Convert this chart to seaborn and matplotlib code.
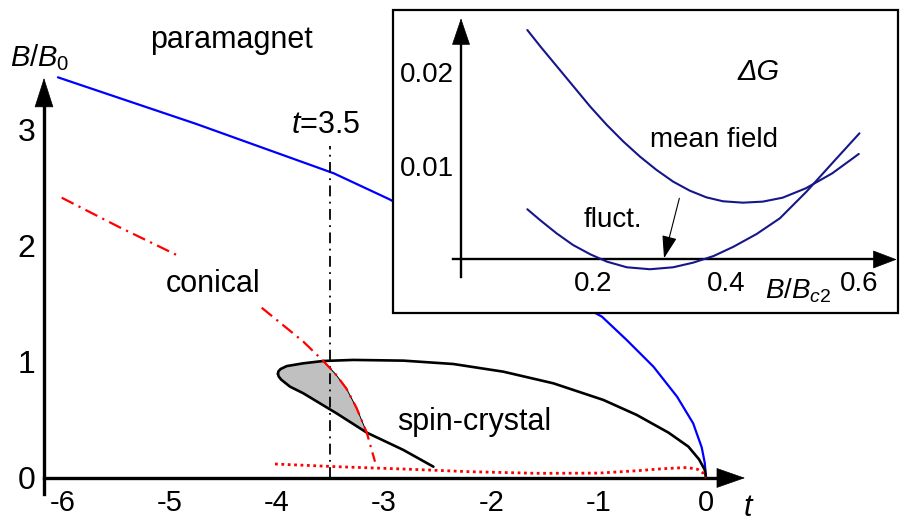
import matplotlib
matplotlib.use("Agg")
import matplotlib.pyplot as plt
from matplotlib.patches import Rectangle
import seaborn as sns

# ---------------- phase diagram data (t, B/B0) ----------------
# paramagnet boundary
para_t = [-6.04, -4.75, -3.47, -2.95, -0.97, -0.74, -0.49, -0.27, -0.12, -0.04, -0.012, 0.0]
para_B = [3.445, 3.044, 2.62, 2.396, 1.387, 1.187, 0.957, 0.699, 0.47, 0.262, 0.13, 0.0]

# conical boundary (two pieces, broken by the "conical" label)
conical_a_t = [-6.005, -5.477, -4.933]
conical_a_B = [2.41, 2.161, 1.917]
conical_b_t = [-4.141, -3.753, -3.567, -3.45, -3.349, -3.256, -3.162, -3.085]
conical_b_B = [1.464, 1.172, 1.006, 0.89, 0.765, 0.60, 0.39, 0.14]

# spin-crystal region: upper and lower branches starting from the left tip
upper_t = [-3.99, -3.985, -3.965, -3.908, -3.753, -3.567, -3.287, -2.821, -2.355, -1.889,
           -1.423, -0.957, -0.646, -0.35, -0.165, -0.065, -0.012, 0.0]
upper_B = [0.895, 0.917, 0.937, 0.962, 0.986, 1.006, 1.015, 1.009, 0.980, 0.914,
           0.814, 0.671, 0.542, 0.39, 0.27, 0.16, 0.07, 0.0]
lower_t = [-3.99, -3.982, -3.96, -3.877, -3.753, -3.442, -3.162, -2.821, -2.541]
lower_B = [0.895, 0.872, 0.846, 0.785, 0.728, 0.555, 0.39, 0.241, 0.097]

# where the conical line crosses the spin-crystal branches
cross_hi_t = -3.567
cross_lo_t = -3.162

# low-field dotted line
dot_t = [-4.017, -3.442, -2.821, -2.2, -1.578, -1.0, -0.646, -0.4, -0.18, -0.08, -0.025, 0.0]
dot_B = [0.12, 0.097, 0.077, 0.054, 0.04, 0.042, 0.062, 0.08, 0.09, 0.075, 0.04, 0.0]

# vertical cut
cut_t = -3.5
cut_top = 2.855

t_ticks = [-6, -5, -4, -3, -2, -1, 0]
t_tick_labels = ["-6", "-5", "-4", "-3", "-2", "-1", "0"]
B_ticks = [0, 1, 2, 3]
B_tick_labels = ["0", "1", "2", "3"]

# ---------------- inset data (B/Bc2, Delta G) ----------------
mf_x = [0.10, 0.12, 0.145, 0.17, 0.195, 0.22, 0.245, 0.27, 0.295, 0.32,
        0.345, 0.37, 0.395, 0.425, 0.455, 0.485, 0.52, 0.56, 0.60]
mf_G = [0.02444, 0.02266, 0.02053, 0.01840, 0.01627, 0.01432, 0.01255, 0.01095,
        0.00953, 0.00829, 0.00733, 0.00662, 0.00620, 0.00605, 0.00616, 0.00658,
        0.00758, 0.00918, 0.01124]
fl_x = [0.10, 0.119, 0.144, 0.169, 0.195, 0.22, 0.25, 0.285, 0.32, 0.35,
        0.381, 0.411, 0.446, 0.481, 0.521, 0.562, 0.601]
fl_G = [0.00535, 0.00421, 0.00279, 0.00154, 0.00055, -0.00023, -0.00083, -0.00104,
        -0.00083, -0.00034, 0.00037, 0.00136, 0.00272, 0.00439, 0.00722, 0.01042,
        0.01344]
inset_x_ticks = [0.2, 0.4, 0.6]
inset_x_labels = ["0.2", "0.4", "0.6"]
inset_y_ticks = [0.01, 0.02]
inset_y_labels = ["0.01", "0.02"]

# ---------------- style ----------------
sns.set_style("white")
plt.rcParams["font.family"] = ["Liberation Sans", "DejaVu Sans"]
plt.rcParams["mathtext.fontset"] = "custom"
plt.rcParams["mathtext.rm"] = "Liberation Sans"
plt.rcParams["mathtext.it"] = "Liberation Sans:italic"
for key in ("text.color", "axes.labelcolor", "xtick.color", "ytick.color",
            "xtick.labelcolor", "ytick.labelcolor"):
    plt.rcParams[key] = "black"

BLUE = "#0000ff"
RED = "#ff0000"
NAVY = "#16168a"

fig = plt.figure(figsize=(9.01, 5.21), dpi=100)
ax = fig.add_axes([0, 0, 1, 1])
ax.set_xlim(-6.580, 1.817)
ax.set_ylim(-0.370, 4.110)


def head(a, tip, tail, ms, hl, hw, lw=0.5, z=6):
    a.annotate("", xy=tip, xytext=tail, xycoords="data", annotation_clip=False,
               arrowprops=dict(arrowstyle=f"-|>,head_length={hl},head_width={hw}",
                               mutation_scale=ms, color="black", lw=lw,
                               shrinkA=0, shrinkB=0), zorder=z)


# shaded coexistence pocket left of the conical line
lo_pts = [(t, b) for t, b in zip(lower_t, lower_B) if t <= cross_lo_t]
co_pts = [(t, b) for t, b in zip(conical_b_t, conical_b_B) if cross_hi_t <= t <= cross_lo_t][::-1]
up_pts = [(t, b) for t, b in zip(upper_t, upper_B) if t <= cross_hi_t][::-1]
poly = lo_pts + co_pts + up_pts
ax.fill([p[0] for p in poly], [p[1] for p in poly], facecolor="#c0c0c0",
        edgecolor="black", lw=0.7, zorder=2)

line_kw = dict(sort=False, estimator=None, ax=ax)
sns.lineplot(x=para_t, y=para_B, color=BLUE, lw=1.6, zorder=3, **line_kw)
sns.lineplot(x=upper_t, y=upper_B, color="black", lw=1.9, zorder=3, **line_kw)
sns.lineplot(x=lower_t, y=lower_B, color="black", lw=1.9, zorder=3, **line_kw)
sns.lineplot(x=dot_t, y=dot_B, color=RED, lw=2.0, ls=(0, (1, 1.3)), zorder=4, **line_kw)
for ct, cb in ((conical_a_t, conical_a_B), (conical_b_t, conical_b_B)):
    sns.lineplot(x=ct, y=cb, color=RED, lw=1.6, ls=(0, (6, 2.5, 1, 2.5)), zorder=5, **line_kw)
sns.lineplot(x=[cut_t, cut_t], y=[0, cut_top], color="black", lw=1.3,
             ls=(0, (6, 3, 1, 3)), zorder=4, **line_kw)

# axes with arrows
for s in ("top", "right"):
    ax.spines[s].set_visible(False)
ax.spines["left"].set_position(("data", -6.17))
ax.spines["left"].set_bounds(-0.14, 3.3)
ax.spines["bottom"].set_position(("data", 0))
ax.spines["bottom"].set_bounds(-6.17, 0.2)
for s in ("left", "bottom"):
    ax.spines[s].set_linewidth(2.4)
    ax.spines[s].set_color("black")
ax.set_xticks(t_ticks, t_tick_labels)
ax.set_yticks(B_ticks, B_tick_labels)
ax.tick_params(axis="both", direction="in", length=5.8, width=1.1, color="black")
ax.tick_params(axis="x", labelsize=21, pad=8)
ax.tick_params(axis="y", labelsize=23, pad=6)
ax.set_xlabel("")
ax.set_ylabel("")
head(ax, (-6.17, 3.44), (-6.17, 3.0), 20, 1.0, 0.32)
head(ax, (0.363, 0), (0.0, 0), 20, 0.97, 0.34)

ax.text(-6.487, 3.543, r"$\mathit{B/B_0}$", fontsize=21, ha="left", va="baseline")
ax.text(0.391, -0.325, "t", fontsize=22, style="italic", ha="center", va="baseline")
ax.text(-4.42, 3.697, "paramagnet", fontsize=22, ha="center", va="baseline")
ax.text(-4.592, 1.602, "conical", fontsize=22, ha="center", va="baseline")
ax.text(-2.157, 0.413, "spin-crystal", fontsize=22, ha="center", va="baseline")
ax.text(-3.543, 2.963, r"$\mathit{t}$=3.5", fontsize=22, ha="center", va="baseline")

# ---------------- inset ----------------
ax2 = fig.add_axes([393 / 901, 1 - 313 / 521, 505 / 901, 303 / 521])
ax2.set_zorder(5)
ax2.set_facecolor("white")
ax2.set_xlim(-0.1026, 0.6591)
ax2.set_ylim(-0.0057, 0.02657)
ax2.add_patch(Rectangle((0, 0), 1, 1, transform=ax2.transAxes, fill=False,
                        lw=1.6, ec="black", clip_on=False, zorder=10))

line_kw2 = dict(sort=False, estimator=None, ax=ax2)
sns.lineplot(x=mf_x, y=mf_G, color=NAVY, lw=1.5, zorder=3, **line_kw2)
sns.lineplot(x=fl_x, y=fl_G, color=NAVY, lw=1.5, zorder=3, **line_kw2)

for s in ("top", "right"):
    ax2.spines[s].set_visible(False)
ax2.spines["left"].set_position(("data", 0))
ax2.spines["left"].set_bounds(-0.00183, 0.024)
ax2.spines["bottom"].set_position(("data", 0))
ax2.spines["bottom"].set_bounds(-0.012, 0.635)
for s in ("left", "bottom"):
    ax2.spines[s].set_linewidth(1.7)
    ax2.spines[s].set_color("black")
ax2.set_xticks(inset_x_ticks, inset_x_labels)
ax2.set_yticks(inset_y_ticks, inset_y_labels)
ax2.tick_params(axis="both", direction="in", length=5.8, width=1.1, color="black",
                labelsize=20)
ax2.tick_params(axis="x", pad=8)
ax2.tick_params(axis="y", pad=5)
ax2.set_xlabel("")
ax2.set_ylabel("")
head(ax2, (0, 0.02569), (0, 0.015), 18, 1.0, 0.34)
head(ax2, (0.6572, 0), (0.5, 0), 16, 1.0, 0.38)
head(ax2, (0.3062, 0.00013), (0.3293, 0.00652), 14, 1.0, 0.33, lw=0.8)

ax2.text(0.4484, 0.01912, "ΔG", fontsize=21, style="italic", ha="center", va="baseline")
ax2.text(0.3819, 0.01195, "mean field", fontsize=20, ha="center", va="baseline")
ax2.text(0.2297, 0.00349, "fluct.", fontsize=20, ha="center", va="baseline")
ax2.text(0.4585, -0.00413, r"$\mathit{B/B_{c2}}$", fontsize=20, ha="left", va="baseline")

fig.savefig("out.png", dpi=100)
